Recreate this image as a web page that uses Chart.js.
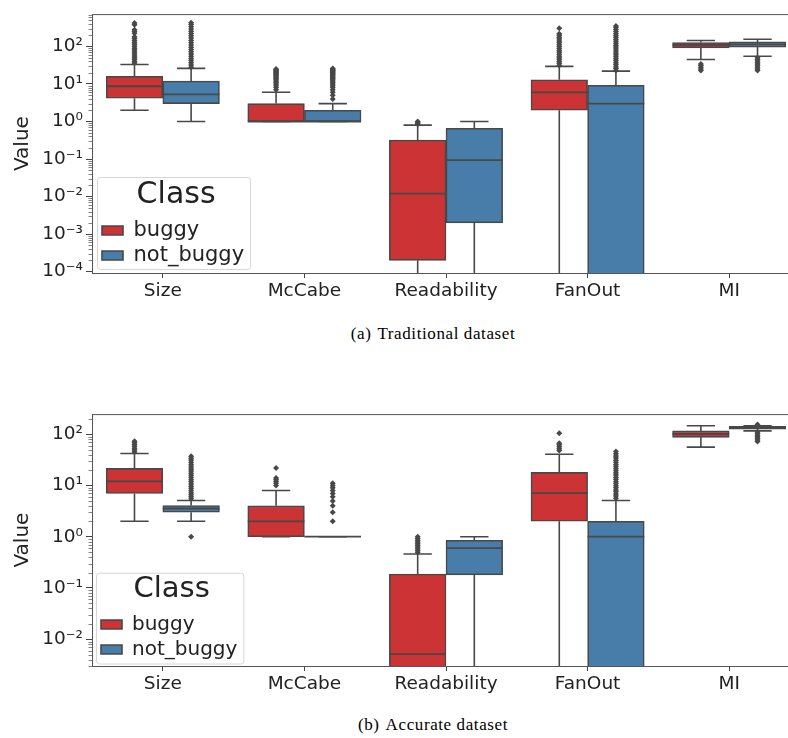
<!DOCTYPE html>
<html>
<head>
<meta charset="utf-8">
<script src="https://cdn.jsdelivr.net/npm/chart.js@4.4.0/dist/chart.umd.min.js"></script>
<style>
  html, body { margin: 0; padding: 0; background: #fff; overflow: hidden; }
  body { position: relative; width: 788px; height: 738px; }
  canvas { position: absolute; left: 0; }
  .caption {
    position: absolute; transform: translateX(-50%); white-space: nowrap;
    font-family: "Liberation Serif", serif; font-size: 17px; line-height: 20px;
    letter-spacing: 0.6px; color: #000;
  }
  .caption span { margin-right: 6px; }
</style>
</head>
<body>
<canvas id="chartA" width="808" height="310" style="top:0px"></canvas>
<div class="caption" style="left:433px; top:324px"><span>(a)</span>Traditional dataset</div>
<canvas id="chartB" width="808" height="303" style="top:400px"></canvas>
<div class="caption" style="left:433px; top:715px"><span>(b)</span>Accurate dataset</div>

<script>
const metrics = ['Size', 'McCabe', 'Readability', 'FanOut', 'MI'];

// (a) Traditional dataset, box statistics per metric (0 = below the axis)
const tradBuggyQ1  = [4.2, 1, 0.0002, 2, 92];
const tradBuggyMed = [8.7, 1, 0.012, 6, 110];
const tradBuggyQ3  = [16, 3, 0.32, 13, 127];
const tradBuggyLo  = [2, 1, 0, 0, 45];
const tradBuggyHi  = [33, 6, 0.8, 29.5, 144];
const tradBuggyOut = [
  [36, 40, 45, 50, 56, 63, 71, 80, 90, 101, 114, 128, 144, 162, 182, 225, 250, 280, 380, 420],
  [7, 8, 9, 10, 11, 12, 13, 14, 15, 16, 17, 18, 19, 20, 21, 22, 23, 24, 25],
  [0.85, 0.9, 0.95, 1.0],
  [31, 35, 39, 44, 49, 55, 62, 70, 78, 88, 99, 111, 125, 140, 158, 177, 200, 218, 305],
  [34, 31, 28, 25, 23]
];

const tradCleanQ1  = [3, 1, 0.002, 0, 96];
const tradCleanMed = [5.3, 1, 0.094, 3, 113];
const tradCleanQ3  = [12, 2, 0.66, 9.2, 132];
const tradCleanLo  = [1, 1, 0, 0, 55];
const tradCleanHi  = [26, 3, 1, 22, 155];
const tradCleanOut = [
  [28, 32, 37, 42, 48, 55, 63, 72, 83, 95, 110, 126, 145, 167, 192, 220, 253, 290, 335, 385, 430],
  [4, 5, 6, 7, 8, 9, 10, 11, 12, 13, 14, 15, 16, 17, 18, 19, 20, 21, 22, 23, 24, 25, 26],
  [],
  [23, 26, 29, 33, 37, 42, 47, 53, 60, 67, 76, 85, 96, 108, 122, 137, 155, 175, 197, 222, 250, 282, 318, 350],
  [50, 45, 41, 37, 34, 31, 28, 25, 23]
];

// (b) Accurate dataset
const accBuggyQ1  = [7, 1, 0, 2, 87];
const accBuggyMed = [12, 2, 0.0051, 7.1, 101];
const accBuggyQ3  = [21.5, 4, 0.187, 18, 116];
const accBuggyLo  = [2, 1, 0, 0, 56];
const accBuggyHi  = [42, 8, 0.46, 40.7, 146];
const accBuggyOut = [
  [45, 49, 53, 58, 63, 68, 73],
  [10, 11, 12, 13, 14, 22],
  [0.5, 0.54, 0.58, 0.63, 0.68, 0.73, 0.79, 0.85, 0.92, 1.0],
  [48, 52, 57, 62, 67, 104],
  []
];

const accCleanQ1  = [3, 1, 0.18, 0, 126];
const accCleanMed = [3.55, 1, 0.6, 1, 134];
const accCleanQ3  = [4.06, 1, 0.85, 2, 143];
const accCleanLo  = [2, 1, 0, 0, 116];
const accCleanHi  = [5.1, 1, 1, 5.1, 146];
const accCleanOut = [
  [1, 5.5, 6, 6.6, 7.2, 8, 8.8, 9.7, 10.7, 11.8, 13, 14.3, 15.8, 17.4, 19.2, 21, 23, 25.5, 28, 31, 34, 37],
  [2, 3, 4, 5, 6, 7, 8, 9, 10, 11],
  [],
  [5.6, 6.2, 6.8, 7.5, 8.2, 9, 9.9, 10.9, 12, 13.2, 14.5, 16, 17.6, 19.4, 21.3, 23.4, 25.8, 28.4, 31.2, 34.3, 37.8, 41.6, 46],
  [72, 77, 83, 89, 96, 103, 110, 150, 155]
];

// y axis ticks
const tickValuesA = [1e-4, 1e-3, 1e-2, 1e-1, 1, 10, 100];
const tickLabelsA = ['10⁻⁴', '10⁻³', '10⁻²', '10⁻¹', '10⁰', '10¹', '10²'];
const tickValuesB = [1e-2, 1e-1, 1, 10, 100];
const tickLabelsB = ['10⁻²', '10⁻¹', '10⁰', '10¹', '10²'];

const RED = '#cb3334';
const BLUE = '#477da8';
const GRAY = '#484848';
const TEXT = '#222';
const FLOOR = 1e-9; // stands in for 0 on a log axis

Chart.defaults.font.family = 'DejaVu Sans';

const pos = v => (v > 0 ? v : FLOOR);

// medians, whiskers, caps and fliers as point lists on the linear x axis
function boxParts(groups) {
  const medians = [], whiskers = [], fliers = [];
  groups.forEach((g, k) => {
    const dx = k === 0 ? -0.2 : 0.2;
    metrics.forEach((m, i) => {
      const x = i + dx;
      const lo = pos(g.lo[i]);
      medians.push({x: x - 0.2, y: g.med[i]}, {x: x + 0.2, y: g.med[i]}, {x: x, y: null});
      whiskers.push(
        {x: x, y: pos(g.q1[i])}, {x: x, y: lo}, {x: x, y: null},
        {x: x, y: g.q3[i]}, {x: x, y: g.hi[i]}, {x: x, y: null},
        {x: x - 0.1, y: lo}, {x: x + 0.1, y: lo}, {x: x, y: null},
        {x: x - 0.1, y: g.hi[i]}, {x: x + 0.1, y: g.hi[i]}, {x: x, y: null}
      );
      g.out[i].forEach(v => fliers.push({x: x, y: v}));
    });
  });
  return {medians, whiskers, fliers};
}

const frameAndTicks = {
  id: 'frameAndTicks',
  afterLayout(chart, args, o) {
    // legend sits in the lower left corner of the plot
    const lg = chart.legend;
    lg.left = chart.chartArea.left + o.dx;
    lg.right = lg.left + lg.width;
    lg.top = chart.chartArea.top;
    lg.bottom = chart.chartArea.bottom - o.dy;
  },
  beforeDraw(chart) {
    const lg = chart.legend;
    const ctx = chart.ctx;
    const pad = lg.options.labels.padding;
    const x0 = lg.left + pad - 5;
    const x1 = lg.left + lg.width - 4;
    const y1 = lg.bottom - 1;
    const y0 = lg.bottom - lg.columnSizes[0].height - lg._computeTitleHeight() - 7;
    ctx.save();
    ctx.fillStyle = 'rgba(255,255,255,0.8)';
    ctx.strokeStyle = '#d6d6d6';
    ctx.lineWidth = 1;
    ctx.beginPath();
    ctx.roundRect(x0 + 0.5, y0 + 0.5, x1 - x0, y1 - y0, 3);
    ctx.fill();
    ctx.stroke();
    ctx.restore();
  },
  afterDraw(chart) {
    const {ctx, chartArea} = chart;
    const y = chart.scales.y;
    ctx.save();
    ctx.strokeStyle = '#555';
    ctx.lineWidth = 1;
    ctx.beginPath();
    ctx.moveTo(chartArea.left, chartArea.top + 0.5);
    ctx.lineTo(chartArea.right, chartArea.top + 0.5);
    ctx.lineTo(chartArea.right - 0.5, chartArea.bottom);
    ctx.stroke();
    // minor log ticks
    ctx.strokeStyle = '#666';
    ctx.lineWidth = 0.8;
    ctx.beginPath();
    for (let d = Math.floor(Math.log10(y.min)); d <= Math.ceil(Math.log10(y.max)); d++) {
      for (let k = 2; k <= 9; k++) {
        const v = k * Math.pow(10, d);
        if (v < y.min || v > y.max) continue;
        const py = Math.round(y.getPixelForValue(v)) + 0.5;
        ctx.moveTo(chartArea.left - 3.5, py);
        ctx.lineTo(chartArea.left, py);
      }
    }
    ctx.stroke();
    ctx.restore();
  }
};

function boxBars(label, g, color, dx) {
  return {
    label: label,
    data: metrics.map((m, i) => ({x: i + dx, y: [pos(g.q1[i]), g.q3[i]]})),
    backgroundColor: color, borderColor: GRAY, borderWidth: 1.6, borderSkipped: false,
    grouped: false, categoryPercentage: 1, barPercentage: 1, order: 3
  };
}

function makeChart(id, buggy, clean, yMin, yMax, tickValues, tickLabels, lay) {
  const parts = boxParts([buggy, clean]);
  return new Chart(document.getElementById(id), {
    type: 'bar',
    data: {
      datasets: [
        boxBars('buggy', buggy, RED, -0.2),
        boxBars('not_buggy', clean, BLUE, 0.2),
        {
          type: 'line', label: 'median', data: parts.medians,
          borderColor: GRAY, borderWidth: 1.8, pointRadius: 0, spanGaps: false, order: 1
        },
        {
          type: 'line', label: 'whisker', data: parts.whiskers,
          borderColor: GRAY, borderWidth: 1.6, pointRadius: 0, spanGaps: false, order: 2
        },
        {
          type: 'scatter', label: 'outlier', data: parts.fliers,
          pointStyle: 'rectRot', pointRadius: 3, backgroundColor: GRAY, borderWidth: 0, order: 1
        }
      ]
    },
    options: {
      responsive: false,
      animation: false,
      events: [],
      layout: {padding: {top: lay.top, right: 8, left: 0, bottom: 0}},
      plugins: {
        tooltip: {enabled: false},
        legend: {
          position: 'chartArea',
          align: 'end',
          labels: {
            boxWidth: 21, boxHeight: 9, padding: lay.legPad, color: TEXT,
            font: {size: lay.legFont},
            filter: item => item.datasetIndex < 2
          },
          title: {
            display: true, text: 'Class', position: 'center', color: TEXT,
            font: {size: lay.titleFont}, padding: 0
          }
        },
        frameAndTicks: {dx: lay.dx, dy: lay.dy}
      },
      scales: {
        x: {
          type: 'linear',
          min: -0.5,
          max: 4.5,
          offset: false,
          afterBuildTicks: s => { s.ticks = metrics.map((m, i) => ({value: i})); },
          grid: {offset: false, drawOnChartArea: false, tickLength: 5, tickColor: '#444'},
          border: {color: '#555', width: 1},
          ticks: {
            color: TEXT, font: {size: 18.5}, padding: 2, maxRotation: 0, autoSkip: false,
            callback: v => metrics[v]
          },
          afterFit: s => { s.height = 37; }
        },
        y: {
          type: 'logarithmic',
          min: yMin,
          max: yMax,
          afterBuildTicks: s => { s.ticks = tickValues.map(v => ({value: v})); },
          grid: {drawOnChartArea: false, tickLength: 6, tickColor: '#444'},
          border: {color: '#555', width: 1},
          ticks: {
            color: TEXT, font: {size: 18.5}, padding: 3,
            callback: v => tickLabels[tickValues.indexOf(v)] || ''
          },
          title: {display: true, text: 'Value', color: TEXT, font: {size: 20}, padding: {top: 11, bottom: 0}},
          afterFit: s => { s.width = 92; }
        }
      }
    },
    plugins: [frameAndTicks]
  });
}

makeChart('chartA',
  {q1: tradBuggyQ1, med: tradBuggyMed, q3: tradBuggyQ3, lo: tradBuggyLo, hi: tradBuggyHi, out: tradBuggyOut},
  {q1: tradCleanQ1, med: tradCleanMed, q3: tradCleanQ3, lo: tradCleanLo, hi: tradCleanHi, out: tradCleanOut},
  9.2e-5, 728, tickValuesA, tickLabelsA,
  {top: 8, legPad: 4, legFont: 21, titleFont: 30, dx: 6, dy: 3});

makeChart('chartB',
  {q1: accBuggyQ1, med: accBuggyMed, q3: accBuggyQ3, lo: accBuggyLo, hi: accBuggyHi, out: accBuggyOut},
  {q1: accCleanQ1, med: accCleanMed, q3: accCleanQ3, lo: accCleanLo, hi: accCleanHi, out: accCleanOut},
  0.003, 247, tickValuesB, tickLabelsB,
  {top: 12, legPad: 5, legFont: 20, titleFont: 29, dx: 4, dy: 1.5});
</script>
</body>
</html>
